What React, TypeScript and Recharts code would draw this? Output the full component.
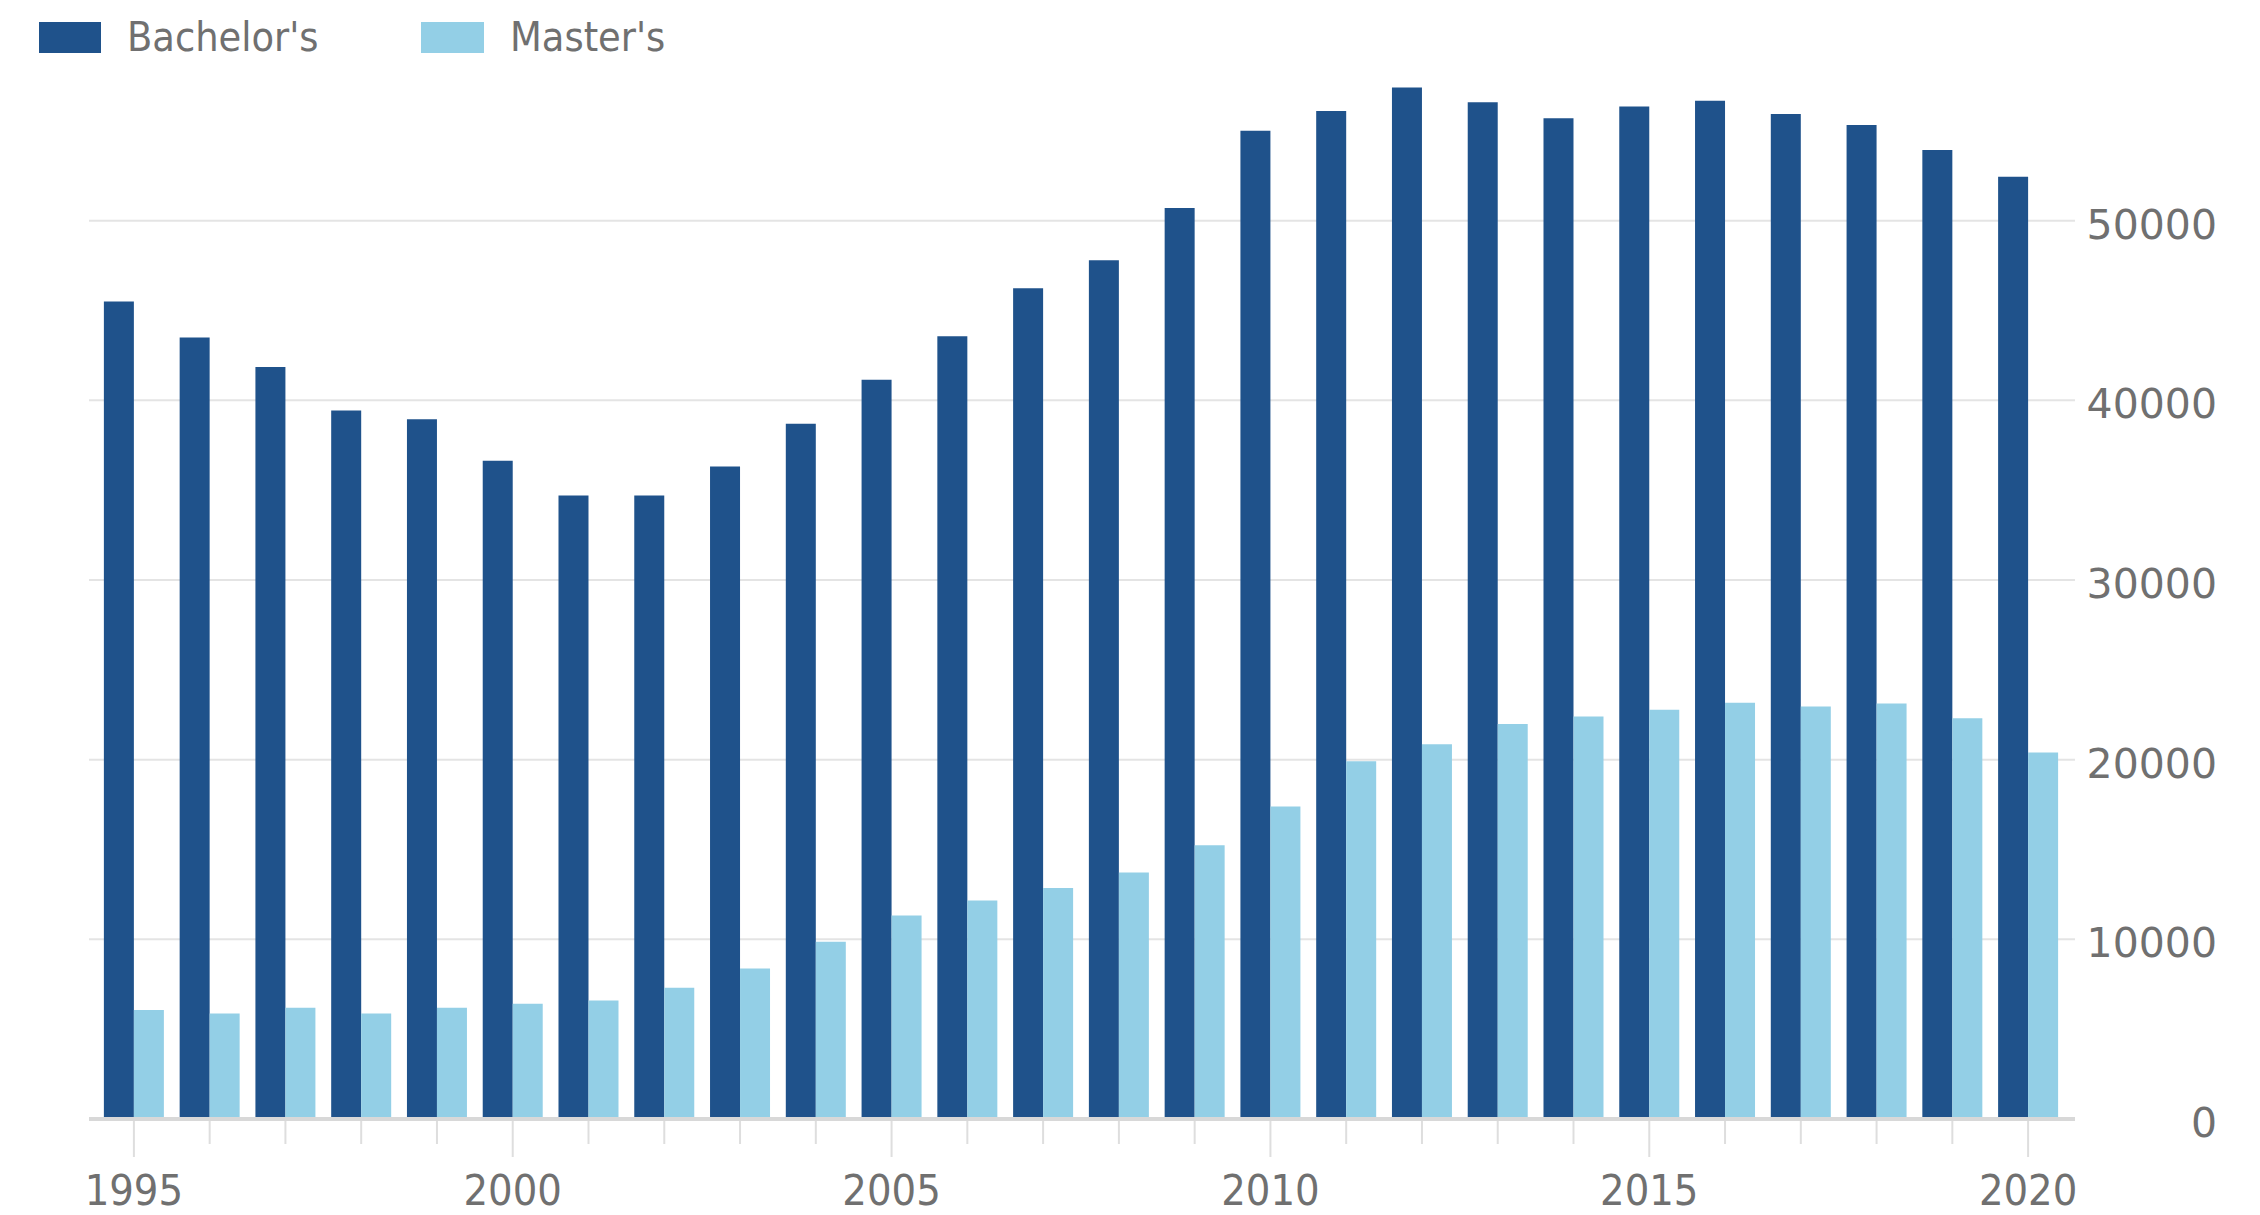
import React from "react";
import { BarChart, Bar, XAxis, YAxis, CartesianGrid } from "recharts";

const years = [
  1995, 1996, 1997, 1998, 1999, 2000, 2001, 2002, 2003, 2004, 2005, 2006, 2007,
  2008, 2009, 2010, 2011, 2012, 2013, 2014, 2015, 2016, 2017, 2018, 2019, 2020,
];
const bachelors = [
  45500, 43500, 41850, 39430, 38950, 36640, 34710, 34710, 36320, 38700, 41150,
  43560, 46240, 47790, 50700, 55000, 56110, 57410, 56590, 55700, 56350, 56680,
  55930, 55330, 53940, 52440,
];
const masters = [
  6060, 5870, 6190, 5870, 6190, 6410, 6600, 7310, 8380, 9870, 11330, 12160,
  12860, 13720, 15240, 17400, 19910, 20860, 21990, 22400, 22780, 23170, 22960,
  23130, 22300, 20400,
];
const yTicks = [0, 10000, 20000, 30000, 40000, 50000];
const seriesNames = ["Bachelor's", "Master's"];

const BACH = "#1f528b";
const MAST = "#93cfe6";
const TEXT = "#707070";

const data = years.map((y, i) => ({
  year: y,
  bachelors: bachelors[i],
  masters: masters[i],
}));

const XTick = (props: any) => {
  const { x, y, payload } = props;
  const yr = Number(payload.value);
  const major = yr % 5 === 0;
  return (
    <g>
      <line
        x1={x}
        x2={x}
        y1={y + 2}
        y2={y + (major ? 38 : 25)}
        stroke="#dedede"
        strokeWidth={2}
      />
      {major && (
        <text
          x={x}
          y={y + 86}
          textAnchor="middle"
          fill={TEXT}
          fontSize={43}
          fontFamily="'DejaVu Sans Condensed', 'DejaVu Sans', sans-serif"
        >
          {yr}
        </text>
      )}
    </g>
  );
};

const YTick = (props: any) => {
  const { x, y, payload } = props;
  return (
    <text
      x={x + 142}
      y={y + 18}
      textAnchor="end"
      fill={TEXT}
      fontSize={41}
      fontFamily="'DejaVu Sans', sans-serif"
    >
      {payload.value}
    </text>
  );
};

const legendText: React.CSSProperties = {
  position: "absolute",
  fontFamily: "'DejaVu Sans Condensed', 'DejaVu Sans', sans-serif",
  fontSize: 41,
  color: TEXT,
  lineHeight: "41px",
  top: 17,
  whiteSpace: "nowrap",
};

export default function App() {
  return (
    <div
      style={{
        position: "absolute",
        left: 0,
        top: 0,
        width: 2260,
        height: 1215,
        background: "#ffffff",
        overflow: "hidden",
      }}
    >
      <BarChart
        width={2260}
        height={1215}
        data={data}
        margin={{ top: 41, right: 35, bottom: 0, left: 89 }}
        barCategoryGap="10.4%"
        barGap={0}
      >
        <CartesianGrid
          vertical={false}
          horizontalValues={yTicks}
          stroke="#e4e4e4"
          strokeWidth={2}
        />
        <XAxis
          dataKey="year"
          type="category"
          interval={0}
          padding={{ left: 7, right: 9 }}
          tickSize={0}
          tickMargin={0}
          tickLine={false}
          axisLine={{ stroke: "#d8d8d8", strokeWidth: 4 }}
          tick={<XTick />}
          height={96}
        />
        <YAxis
          orientation="right"
          domain={[0, 60000]}
          ticks={yTicks}
          interval={0}
          width={150}
          tickSize={0}
          tickMargin={0}
          tickLine={false}
          axisLine={false}
          tick={<YTick />}
        />
        <Bar
          dataKey="bachelors"
          name={seriesNames[0]}
          fill={BACH}
          isAnimationActive={false}
        />
        <Bar
          dataKey="masters"
          name={seriesNames[1]}
          fill={MAST}
          isAnimationActive={false}
        />
      </BarChart>
      <div
        style={{
          position: "absolute",
          left: 39,
          top: 22,
          width: 62,
          height: 31,
          background: BACH,
        }}
      />
      <div style={{ ...legendText, left: 127 }}>{seriesNames[0]}</div>
      <div
        style={{
          position: "absolute",
          left: 421,
          top: 22,
          width: 63,
          height: 31,
          background: MAST,
        }}
      />
      <div style={{ ...legendText, left: 510 }}>{seriesNames[1]}</div>
    </div>
  );
}
